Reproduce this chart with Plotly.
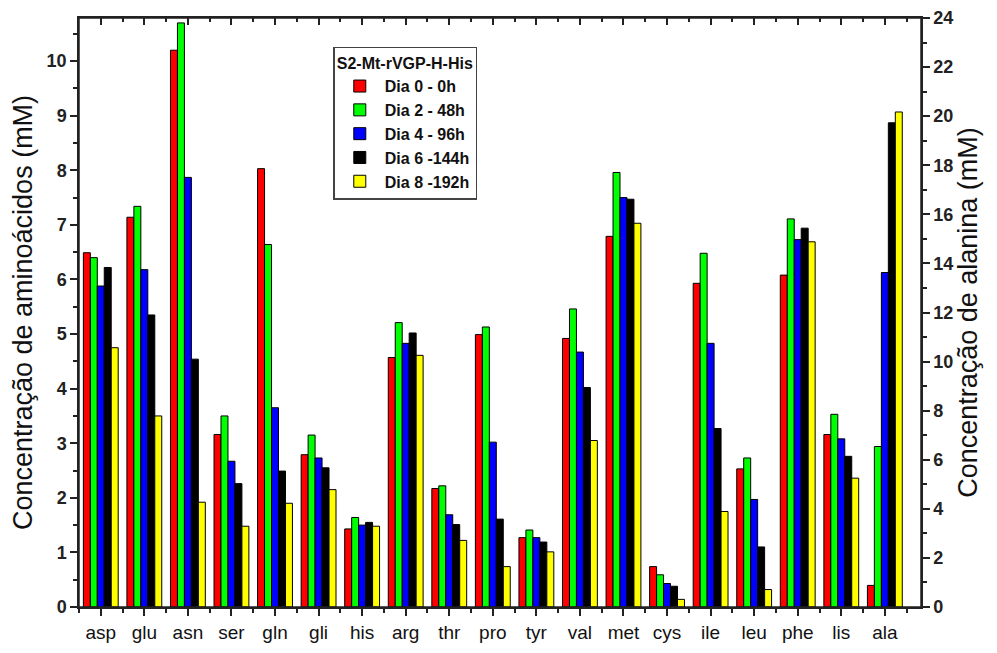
import plotly.graph_objects as go

categories = ["asp", "glu", "asn", "ser", "gln", "gli", "his", "arg", "thr", "pro",
              "tyr", "val", "met", "cys", "ile", "leu", "phe", "lis"]
alanine_label = "ala"

series_names = ["Dia 0 - 0h", "Dia 2 - 48h", "Dia 4 - 96h", "Dia 6 -144h", "Dia 8 -192h"]
series_colors = ["#FF0000", "#00FF00", "#0000FF", "#000000", "#FFFF00"]

# amino acid concentrations (mM), left axis
dia0 = [6.49, 7.14, 10.20, 3.16, 8.03, 2.79, 1.43, 4.57, 2.17, 4.99, 1.27, 4.92, 6.79, 0.74, 5.93, 2.53, 6.08, 3.16]
dia2 = [6.40, 7.34, 10.70, 3.50, 6.64, 3.15, 1.64, 5.21, 2.22, 5.13, 1.41, 5.46, 7.96, 0.59, 6.48, 2.73, 7.11, 3.53]
dia4 = [5.88, 6.18, 7.87, 2.67, 3.65, 2.73, 1.50, 4.83, 1.69, 3.02, 1.27, 4.67, 7.50, 0.43, 4.83, 1.97, 6.73, 3.08]
dia6 = [6.22, 5.35, 4.54, 2.26, 2.49, 2.55, 1.55, 5.02, 1.51, 1.61, 1.19, 4.02, 7.47, 0.38, 3.27, 1.10, 6.94, 2.76]
dia8 = [4.75, 3.50, 1.92, 1.48, 1.90, 2.15, 1.48, 4.61, 1.22, 0.74, 1.01, 3.05, 7.03, 0.14, 1.75, 0.32, 6.69, 2.36]

# alanine concentration (mM), right axis
ala_values = [0.88, 6.54, 13.63, 19.73, 20.17]

all_series = [dia0, dia2, dia4, dia6, dia8]

left_ticks = list(range(0, 11))
right_ticks = list(range(0, 25, 2))

bar_w = 0.16
x_main = list(range(len(categories)))
x_ala = [len(categories)]
tick_positions = x_main + x_ala
tick_labels = categories + [alanine_label]
minor_positions = [k + 0.5 for k in range(-1, 19)]
x_range = [-0.5, 18.83]

fig = go.Figure()
for i, (name, color, vals) in enumerate(zip(series_names, series_colors, all_series)):
    off = -0.4 + i * bar_w
    fig.add_trace(go.Bar(
        x=x_main, y=vals, name=name, width=bar_w, offset=off,
        marker=dict(color=color, line=dict(color="#000000", width=1)),
        legendgroup=name, xaxis="x", yaxis="y",
    ))
    fig.add_trace(go.Bar(
        x=x_ala, y=[ala_values[i]], name=name, width=bar_w, offset=off,
        marker=dict(color=color, line=dict(color="#000000", width=1)),
        legendgroup=name, showlegend=False, xaxis="x2", yaxis="y2",
    ))

FAM = "Liberation Sans, Arial, sans-serif"
LC = "#222222"

fig.update_layout(
    width=989, height=645,
    margin=dict(l=71, r=76, t=10, b=46),
    paper_bgcolor="white", plot_bgcolor="white",
    barmode="overlay",
    showlegend=True,
    font=dict(family=FAM, color="#111111"),
    xaxis=dict(
        range=x_range, tickmode="array", tickvals=tick_positions, ticktext=tick_labels,
        ticks="outside", ticklen=7, tickwidth=2, tickcolor=LC, automargin=False,
        showline=True, linecolor=LC, linewidth=1.5, showgrid=False, zeroline=False,
        tickfont=dict(size=19, family=FAM, color="#111111"),
        minor=dict(tickmode="array", tickvals=minor_positions,
                   ticks="outside", ticklen=4, tickwidth=1.5, tickcolor=LC, showgrid=False),
    ),
    xaxis2=dict(
        range=x_range, overlaying="x", side="top", anchor="y2", automargin=False,
        tickmode="array", tickvals=tick_positions, ticktext=[""] * len(tick_positions),
        ticks="inside", ticklen=7, tickwidth=2, tickcolor=LC,
        showline=True, linecolor=LC, linewidth=1.5, showgrid=False, zeroline=False,
        minor=dict(tickmode="array", tickvals=minor_positions, ticks="inside", ticklen=4,
                   tickwidth=1.5, tickcolor=LC, showgrid=False),
    ),
    yaxis=dict(
        range=[0, 10.79], tickmode="array", tickvals=left_ticks, automargin=False,
        ticks="outside", ticklen=7, tickwidth=1.5, tickcolor=LC,
        showline=True, linecolor=LC, linewidth=1.5, showgrid=False, zeroline=False,
        tickfont=dict(size=18, family=FAM, color=LC, weight="bold"),
        minor=dict(dtick=0.5, tick0=0, ticks="outside", ticklen=4, tickwidth=1.5,
                   tickcolor=LC, showgrid=False),
        title=dict(text="Concentração de aminoácidos (mM)", standoff=8,
                   font=dict(size=27, family=FAM, color="#111111")),
    ),
    yaxis2=dict(
        range=[0, 24], overlaying="y", side="right", anchor="x2", automargin=False,
        tickmode="array", tickvals=right_ticks,
        ticks="outside", ticklen=7, tickwidth=1.5, tickcolor=LC,
        showline=True, linecolor=LC, linewidth=1.5, showgrid=False, zeroline=False,
        tickfont=dict(size=18, family=FAM, color=LC, weight="bold"),
        minor=dict(dtick=1, tick0=0, ticks="outside", ticklen=4, tickwidth=1.5,
                   tickcolor=LC, showgrid=False),
        title=dict(text="Concentração de alanina (mM)", standoff=6,
                   font=dict(size=27, family=FAM, color="#111111")),
    ),
    legend=dict(
        x=0.302, y=0.951, xanchor="left", yanchor="top",
        bgcolor="white", bordercolor="#444444", borderwidth=1.5,
        title=dict(text="<b>S2-Mt-rVGP-H-His</b>", font=dict(size=16, color="#111111")),
        font=dict(size=16, color="#111111", weight="bold"),
        traceorder="normal", itemwidth=40, tracegroupgap=0,
    ),
    shapes=[dict(type="rect", xref="paper", yref="paper", x0=0, x1=1, y0=0, y1=1,
                 line=dict(color=LC, width=1.5), fillcolor="rgba(0,0,0,0)", layer="above")],
)

fig.write_html("out.html")
